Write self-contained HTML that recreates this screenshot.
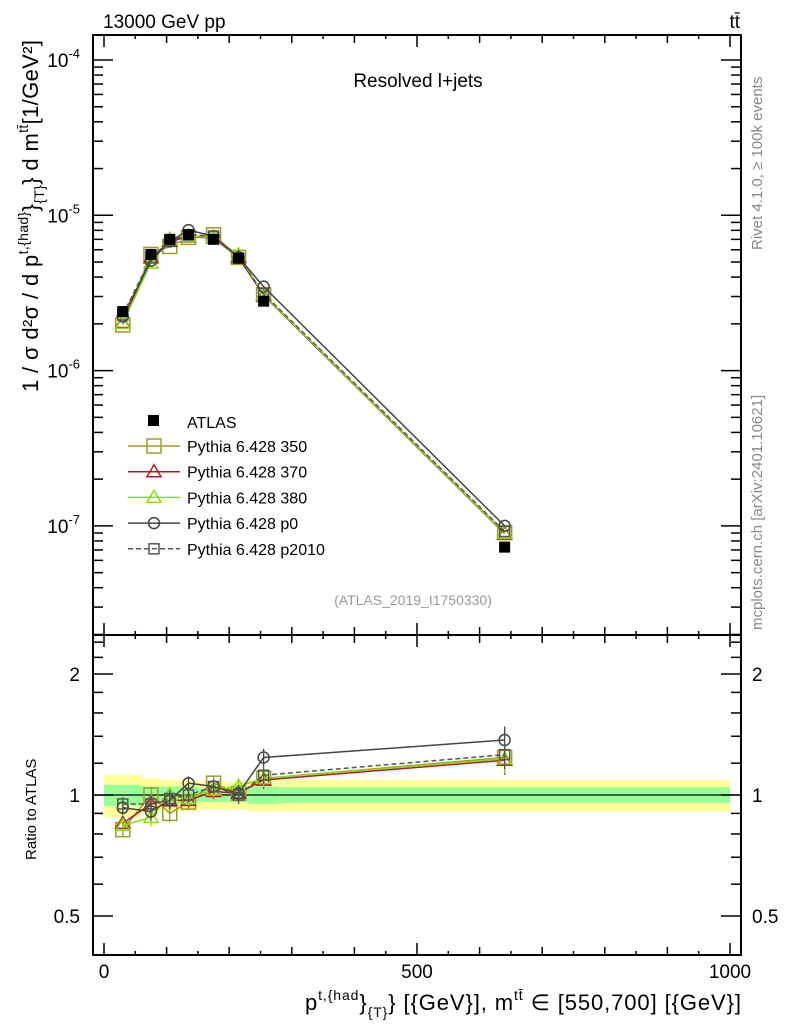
<!DOCTYPE html>
<html><head><meta charset="utf-8"><style>
body{margin:0;background:#fff;}
svg{font-family:"Liberation Sans",sans-serif;display:block}
</style></head><body>
<svg id="c" width="786" height="1024" viewBox="0 0 786 1024" xmlns="http://www.w3.org/2000/svg">
<g id="bands"></g><g id="marks"></g><g id="axes"></g>
<text x="103" y="28" font-size="19">13000 GeV pp</text>
<text x="740" y="28" font-size="19" text-anchor="end">tt̄</text>
<text x="418" y="87" font-size="19" text-anchor="middle">Resolved l+jets</text>
<text x="413" y="605" font-size="14" fill="#999" text-anchor="middle">(ATLAS_2019_I1750330)</text>
<text transform="translate(762,250) rotate(-90)" font-size="15" fill="#888">Rivet 4.1.0, ≥ 100k events</text>
<text transform="translate(762,630) rotate(-90)" font-size="15" fill="#888">mcplots.cern.ch [arXiv:2401.10621]</text>
<text transform="translate(38,392) rotate(-90)" font-size="22" textLength="352" lengthAdjust="spacing">1 / σ d²σ / d p<tspan font-size="14" dy="-10">t,{had}</tspan><tspan dy="10">}</tspan><tspan font-size="14" dy="6">{T}</tspan><tspan dy="-6">} d m</tspan><tspan font-size="14" dy="-10">tt̄</tspan><tspan dy="10">[1/GeV²]</tspan></text>
<text transform="translate(36,860) rotate(-90)" font-size="15">Ratio to ATLAS</text>
<text x="741" y="1010" font-size="22" text-anchor="end" textLength="436" lengthAdjust="spacing">p<tspan font-size="14" dy="-10">t,{had</tspan><tspan dy="10">}</tspan><tspan font-size="14" dy="7">{T}</tspan><tspan dy="-7">} [{GeV}], m</tspan><tspan font-size="14" dy="-10">tt̄</tspan><tspan dy="10"> ∈ [550,700] [{GeV}]</tspan></text>
<g id="legend"></g>
</svg>
<script>
const binEdges=[0,60,90,120,150,200,230,280,1000];
const xCenters=[30,75,105,135,175,215,255,640];
const atlas=[2.4e-6,5.6e-6,7.0e-6,7.5e-6,7.0e-6,5.3e-6,2.8e-6,7.3e-8];
const bandTot=[0.12,0.10,0.09,0.09,0.08,0.08,0.09,0.09];
const bandStat=[0.06,0.05,0.05,0.05,0.04,0.04,0.05,0.045];
const r350=[0.82,1.00,0.90,0.96,1.07,1.01,1.10,1.24];
const r370=[0.85,0.95,0.97,0.97,1.02,1.01,1.09,1.22];
const r380=[0.84,0.88,1.00,0.98,1.03,1.05,1.10,1.23];
const rp0=[0.93,0.91,0.97,1.07,1.05,1.01,1.24,1.37];
const rp2010=[0.95,0.95,0.98,1.00,1.05,1.00,1.12,1.26];
const mcErr=[0.04,0.05,0.05,0.04,0.04,0.05,0.05,0.08];
const xTicks=[0,500,1000];
const yTicks=[-4,-5,-6,-7];
const rTicks=[0.5,1,2];

const NS="http://www.w3.org/2000/svg";
const L=93,R=741,T=35,D=635,B=955;
const X=v=>104+v*0.626;
const Y=v=>60+(-4-Math.log10(v))*155.3;
const RY=v=>795-Math.log2(v)*121;
function el(t,a,p){const e=document.createElementNS(NS,t);for(const k in a)e.setAttribute(k,a[k]);(p||document.getElementById('marks')).appendChild(e);return e;}
const bands=document.getElementById('bands'),axes=document.getElementById('axes');
for(let i=0;i<atlas.length;i++){
 const x0=X(binEdges[i]),x1=X(binEdges[i+1]);
 const b1=el('rect',{x:x0,y:RY(1+bandTot[i]),width:x1-x0,height:RY(1-bandTot[i])-RY(1+bandTot[i]),fill:'#ffff99'},bands);
 
 
 const b2=el('rect',{x:x0,y:RY(1+bandStat[i]),width:x1-x0,height:RY(1-bandStat[i])-RY(1+bandStat[i]),fill:'#99ff99'},bands);
 
 
}
el('line',{x1:L,x2:R,y1:RY(1),y2:RY(1),stroke:'#000','stroke-width':1.2},bands);
const series=[
 {n:'Pythia 6.428 350',r:r350,c:'#a09a2a',m:'sq',dash:''},
 {n:'Pythia 6.428 370',r:r370,c:'#b0182a',m:'tri',dash:''},
 {n:'Pythia 6.428 380',r:r380,c:'#88dd11',m:'tri',dash:''},
 {n:'Pythia 6.428 p0',r:rp0,c:'#444',m:'circ',dash:''},
 {n:'Pythia 6.428 p2010',r:rp2010,c:'#555',m:'sq2',dash:'5,3'}];
function marker(g,m,x,y,c){
 if(m==='sq')return el('rect',{x:x-7,y:y-7,width:14,height:14,fill:'none',stroke:c,'stroke-width':1.5},g);
 if(m==='sq2')return el('rect',{x:x-5,y:y-5,width:10,height:10,fill:'none',stroke:c,'stroke-width':1.5},g);
 if(m==='tri')return el('polygon',{points:`${x},${y-7} ${x-7},${y+5} ${x+7},${y+5}`,fill:'none',stroke:c,'stroke-width':1.5},g);
 return el('circle',{cx:x,cy:y,r:5.5,fill:'none',stroke:c,'stroke-width':1.5},g);
}
series.forEach((s,si)=>{
 const g=el('g',{});
 
 
 const mv=s.r.map((r,i)=>r*atlas[i]);
 el('polyline',{points:xCenters.map((x,i)=>X(x)+','+Y(mv[i])).join(' '),fill:'none',stroke:s.c,'stroke-width':1.5,'stroke-dasharray':s.dash},g);
 el('polyline',{points:xCenters.map((x,i)=>X(x)+','+RY(s.r[i])).join(' '),fill:'none',stroke:s.c,'stroke-width':1.5,'stroke-dasharray':s.dash},g);
 xCenters.forEach((x,i)=>{
  const px=X(x);
  el('line',{x1:px,x2:px,y1:RY(s.r[i]*(1+mcErr[i])),y2:RY(s.r[i]*(1-mcErr[i])),stroke:s.c,'stroke-width':1.3},g);
  const m1=marker(g,s.m,px,Y(mv[i]),s.c);
  
  
  const m2=marker(g,s.m,px,RY(s.r[i]),s.c);
  
  
 });
});
atlas.forEach((v,i)=>{
 const r=el('rect',{x:X(xCenters[i])-5.5,y:Y(v)-5.5,width:11,height:11,fill:'#000'});
 
 
});
el('rect',{x:L,y:T,width:R-L,height:D-T,fill:'none',stroke:'#000','stroke-width':2},axes);
el('rect',{x:L,y:D,width:R-L,height:B-D,fill:'none',stroke:'#000','stroke-width':2},axes);
for(let v=0;v<=1000;v+=50){const px=X(v);const len=v%500===0?12:(v%100===0?8:4);
 [D,B].forEach(yb=>{el('line',{x1:px,x2:px,y1:yb,y2:yb-len,stroke:'#000','stroke-width':1.5},axes);
  el('line',{x1:px,x2:px,y1:(yb===D?T:D),y2:(yb===D?T:D)+len,stroke:'#000','stroke-width':1.5},axes);});}
xTicks.forEach(v=>{const t=el('text',{x:X(v),y:978,'font-size':19,'text-anchor':'middle'},axes);t.textContent=v;
 });
for(let e=-8;e<=-4;e++)for(let k=1;k<10;k++){const y=Y(k*Math.pow(10,e));if(y<T||y>D)continue;const len=k===1?20:10;
 el('line',{x1:L,x2:L+len,y1:y,y2:y,stroke:'#000','stroke-width':1.5},axes);el('line',{x1:R,x2:R-len,y1:y,y2:y,stroke:'#000','stroke-width':1.5},axes);}
yTicks.forEach(e=>{const t=el('text',{x:80,y:Y(Math.pow(10,e))+7,'font-size':19,'text-anchor':'end'},axes);t.innerHTML='10<tspan font-size="13" dy="-9">'+e+'</tspan>';
 });
[0.4,0.5,0.6,0.7,0.8,0.9,1,1.2,1.4,1.6,1.8,2,2.2,2.4].forEach(v=>{const y=RY(v);if(y<D||y>B)return;const len=(v===0.5||v===1||v===2)?20:10;
 el('line',{x1:L,x2:L+len,y1:y,y2:y,stroke:'#000','stroke-width':1.5},axes);el('line',{x1:R,x2:R-len,y1:y,y2:y,stroke:'#000','stroke-width':1.5},axes);});
rTicks.forEach(v=>{[80,752].forEach((x,j)=>{const t=el('text',{x:x,y:RY(v)+7,'font-size':19,'text-anchor':j?'start':'end'},axes);t.textContent=v;
 });});
const lg=document.getElementById('legend');
el('rect',{x:148,y:415,width:11,height:11,fill:'#000'},lg);
const at=el('text',{x:187,y:428,'font-size':16},lg);at.textContent='ATLAS';

series.forEach((s,i)=>{const y=446+i*25.7;
 el('line',{x1:128,x2:180,y1:y,y2:y,stroke:s.c,'stroke-width':1.5,'stroke-dasharray':s.dash},lg);
 marker(lg,s.m,154,y,s.c);
 const t=el('text',{x:187,y:y+6,'font-size':16},lg);t.textContent=s.n;
 });
</script>
</body></html>
